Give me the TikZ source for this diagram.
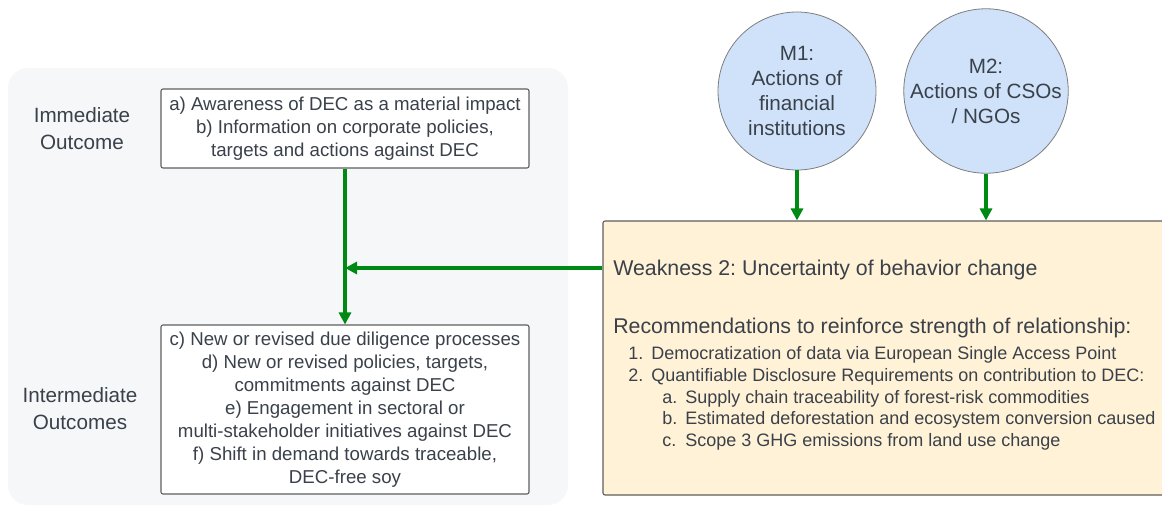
\documentclass[tikz,border=0pt]{standalone}
\usepackage{fontspec}
\setmainfont{Liberation Sans}
\usetikzlibrary{arrows.meta}
\frenchspacing
\definecolor{ink}{RGB}{58,65,74}
\definecolor{panel}{RGB}{246,247,249}
\definecolor{cream}{RGB}{255,242,214}
\definecolor{bubble}{RGB}{207,226,250}
\definecolor{edge}{RGB}{94,94,94}
\definecolor{flow}{RGB}{0,138,20}
% fixed-width label for the numbered list
\newcommand\itemlbl[1]{\makebox[17.25pt][l]{#1}}
\begin{document}
\begin{tikzpicture}[x=0.75pt,y=-0.75pt,
  every node/.style={text=ink},
  outbox/.style={draw=edge, line width=0.8pt, fill=white, rounded corners=1.5pt,
    minimum width=276pt, align=center, inner sep=0pt,
    font=\fontsize{14}{17.2}\selectfont},
  sidelabel/.style={align=center, inner sep=0pt, font=\fontsize{15.5}{20.2}\selectfont},
  mechanism/.style={circle, draw=edge!80, line width=0.6pt, fill=bubble,
    minimum size=118.5pt, inner sep=0pt, align=center,
    font=\fontsize{15.5}{18.8}\selectfont},
  notebox/.style={draw=edge, line width=0.8pt, fill=cream, rounded corners=1.5pt,
    minimum width=435pt, minimum height=205.5pt, inner sep=0pt},
  headline/.style={anchor=west, inner sep=0pt, font=\fontsize{16}{18}\selectfont},
  listtext/.style={anchor=west, inner sep=0pt, align=left, font=\fontsize{13.5}{16.3}\selectfont},
  flowarrow/.style={draw=flow, line width=3pt, -{Triangle[length=9pt,width=9pt]}}
]
\useasboundingbox (0,0) rectangle (1162,507);

% shaded panel holding the outcome chain
\fill[panel, rounded corners=15pt] (8,68) rectangle (568,505);

% outcome labels
\node[sidelabel] (immlbl) at (82,128.5) {Immediate\\Outcome};
\node[sidelabel] (intlbl) at (80,408.5) {Intermediate\\Outcomes};

% outcome boxes
\node[outbox, minimum height=59.25pt] (imm) at (345,128.5)
  {a) Awareness of DEC as a material impact\\
   b) Information on corporate policies,\\
   targets and actions against DEC};
\node[outbox, minimum height=126.75pt] (inter) at (345,409.5)
  {c) New or revised due diligence processes\\
   d) New or revised policies, targets,\\
   commitments against DEC\\
   e) Engagement in sectoral or\\
   multi-stakeholder initiatives against DEC\\
   f) Shift in demand towards traceable,\\
   DEC-free soy};

% mechanisms
\node[mechanism] (m1) at (797,91) {M1:\\Actions of\\financial\\institutions};
\node[mechanism] (m2) at (986,91) {M2:\\Actions of CSOs\\/ NGOs};

% weakness and recommendations
\node[notebox] (weakbox) at (893,358) {};
\node[headline] (weak) at (613,270) {Weakness 2: Uncertainty of behavior change};
\node[headline] (recs) at (613,328) {Recommendations to reinforce strength of relationship:};
\node[listtext] (reclist) at (628,398.5)
  {\itemlbl{1.}Democratization of data via European Single Access Point\\
   \itemlbl{2.}Quantifiable Disclosure Requirements on contribution to DEC:\\
   \hspace*{25.5pt}\itemlbl{a.}Supply chain traceability of forest-risk commodities\\
   \hspace*{25.5pt}\itemlbl{b.}Estimated deforestation and ecosystem conversion caused\\
   \hspace*{25.5pt}\itemlbl{c.}Scope 3 GHG emissions from land use change};

% connectors
\draw[flowarrow] (imm.south) -- (inter.north);
\draw[flowarrow] (weakbox.west |- 0,268) -- (imm.south |- 0,268);
\draw[flowarrow] (m1.south) -- (m1.south |- weakbox.north);
\draw[flowarrow] (m2.south) -- (m2.south |- weakbox.north);
\end{tikzpicture}
\end{document}
